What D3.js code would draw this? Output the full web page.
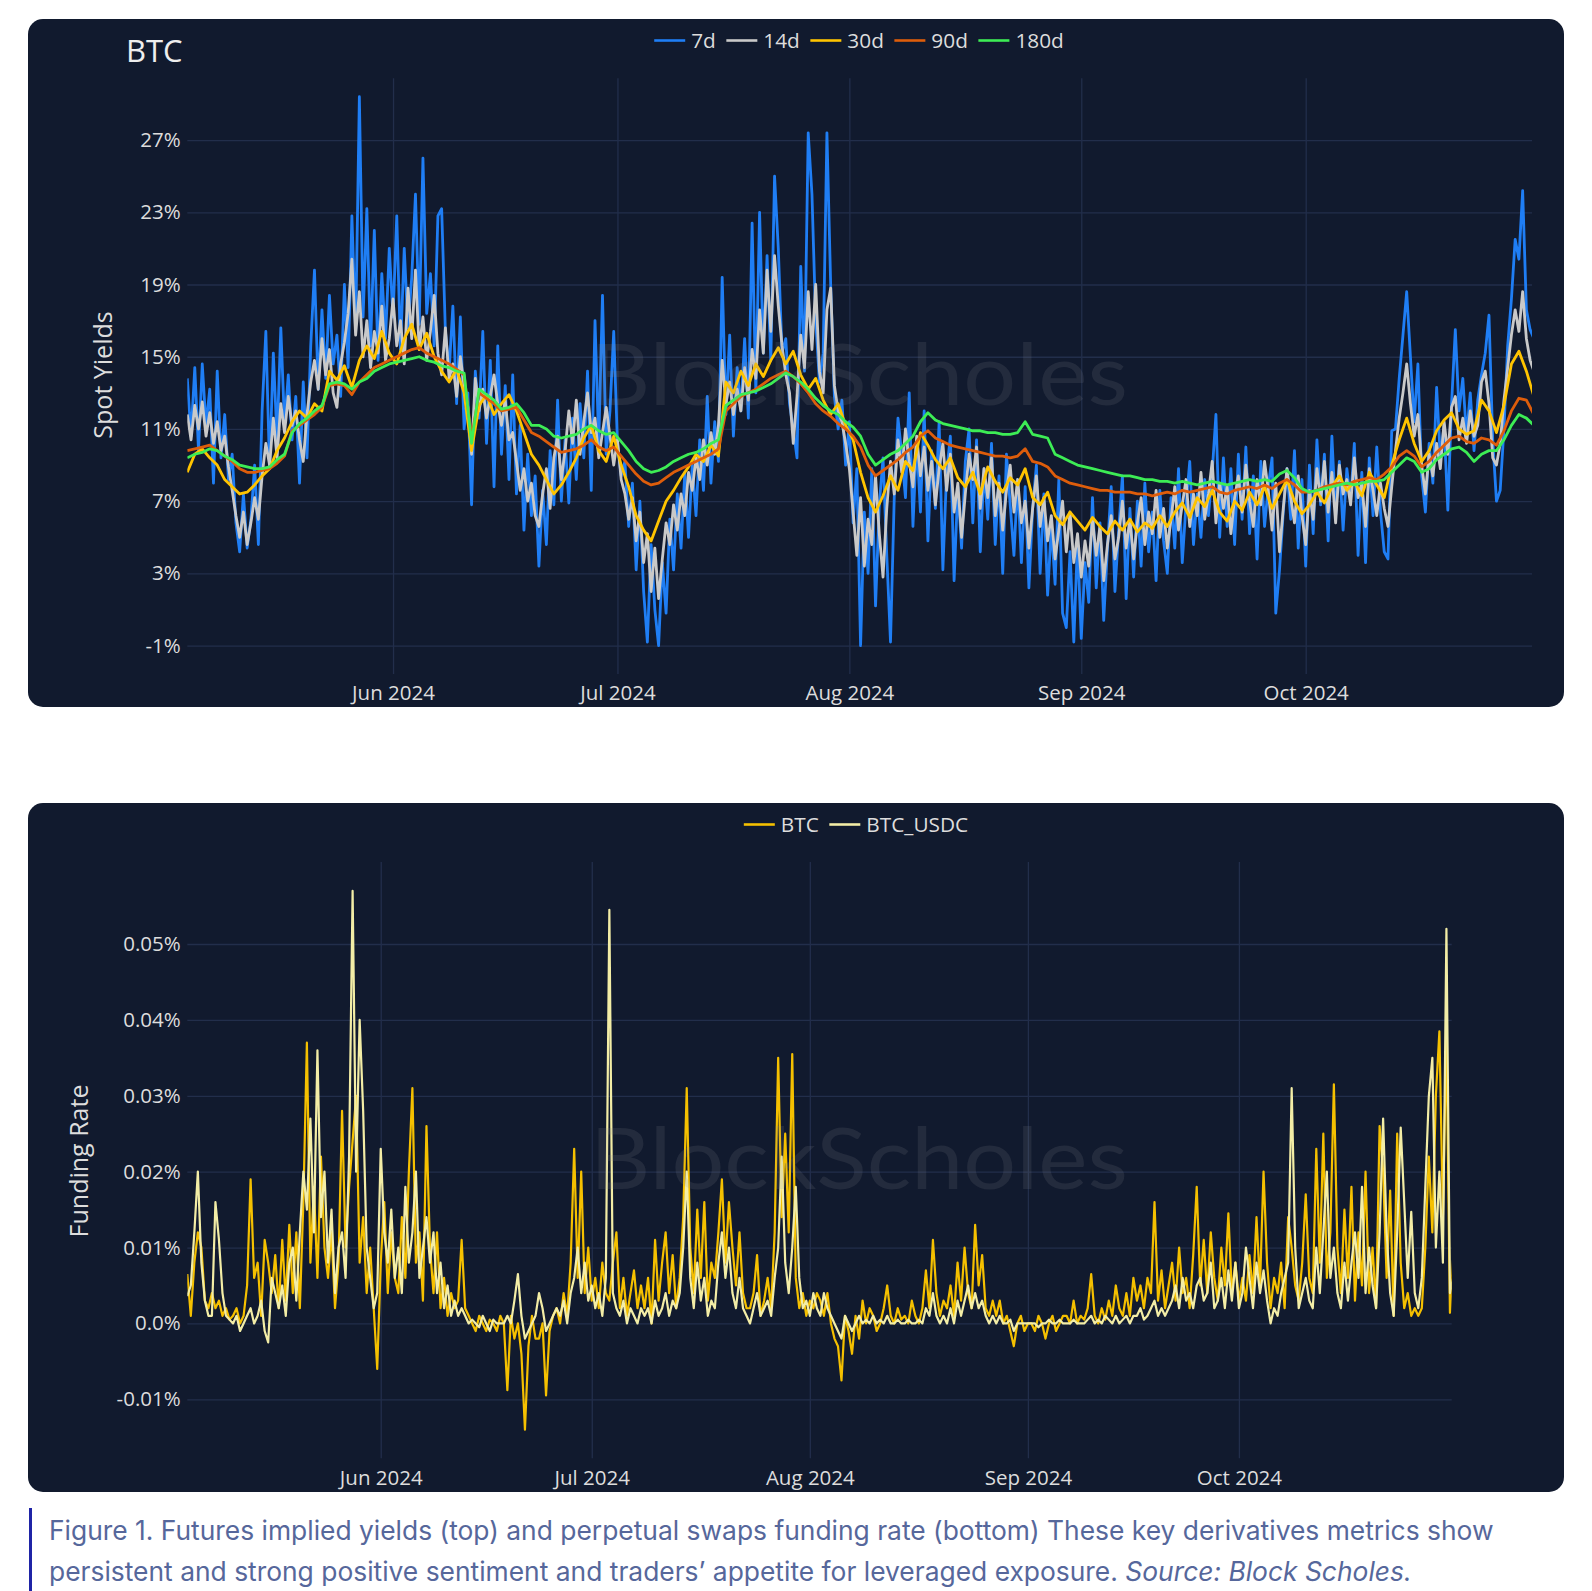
<!DOCTYPE html>
<html>
<head>
<meta charset="utf-8">
<script src="https://cdn.jsdelivr.net/npm/d3@7"></script>
<style>
	body { margin: 0; background: #ffffff; }
	svg { display: block; }
</style>
</head>
<body>
<svg id="chart" width="1592" height="1591"></svg>
<script>
// ---- data ----
var firstStamp = "2024-05-04 12:00";
var lastStamp = "2024-10-31 06:00";

var monthTicks = ["2024-06-01", "2024-07-01", "2024-08-01", "2024-09-01", "2024-10-01"];
var monthLabels = ["Jun 2024", "Jul 2024", "Aug 2024", "Sep 2024", "Oct 2024"];

var yieldTicks = [-1, 3, 7, 11, 15, 19, 23, 27];
var yieldTickLabels = ["-1%", "3%", "7%", "11%", "15%", "19%", "23%", "27%"];
var fundingTicks = [-0.01, 0, 0.01, 0.02, 0.03, 0.04, 0.05];
var fundingTickLabels = ["-0.01%", "0.0%", "0.01%", "0.02%", "0.03%", "0.04%", "0.05%"];

var yieldNames = ["7d", "14d", "30d", "90d", "180d"];
var fundingNames = ["BTC", "BTC_USDC"];

// spot yields in %, 7d and 14d every 12 hours
var yield7d = [13.8,10.6,14.4,9.8,14.6,11.2,13.2,8.0,14.2,9.4,11.8,8.2,
	9.6,5.8,4.2,7.4,4.4,6.0,9.0,4.6,
	12.0,16.4,8.8,15.2,10.4,16.6,11.2,14.0,
	10.4,12.8,8.0,13.6,9.4,15.6,19.8,13.2,
	17.6,13.8,18.4,14.6,16.2,12.8,19.0,14.4,
	22.8,16.4,29.4,17.2,23.2,15.6,
	22.0,14.8,19.6,16.0,21.0,
	17.2,22.8,15.4,21.0,16.6,19.4,24.0,16.8,
	26.0,17.4,19.6,15.6,22.8,23.2,16.4,14.2,
	17.8,12.4,17.2,11.0,13.0,6.8,14.2,11.6,
	16.4,10.2,14.8,7.8,15.6,9.6,13.4,8.2,
	14.0,7.4,11.2,5.4,9.6,6.2,8.4,3.4,
	7.6,4.6,9.8,6.8,12.6,7.0,10.4,6.9,
	11.6,8.2,12.4,9.4,14.2,7.6,17.0,10.2,
	18.4,9.6,12.0,16.4,10.2,8.4,9.2,5.6,
	8.0,3.2,7.0,2.0,-0.8,4.6,1.0,-1.0,
	3.6,0.8,6.0,3.2,7.4,4.4,8.6,5.0,
	9.0,6.2,10.4,7.6,12.8,8.0,11.4,9.2,
	19.4,11.8,16.2,10.6,14.4,12.0,16.0,11.6,
	22.4,13.0,23.0,15.2,20.6,14.8,25.0,
	21.0,15.2,16.0,12.4,11.0,9.4,20.0,14.2,27.4,
	24.0,17.0,13.6,15.2,27.4,19.0,12.8,11.0,
	12.6,9.0,11.4,5.8,8.8,
	-1.0,6.4,3.0,8.8,1.2,6.8,9.4,4.0,-0.8,7.2,11.6,
	9.6,7.2,13.0,5.6,10.4,6.4,12.0,4.8,
	9.8,6.6,11.4,3.2,8.6,10.6,2.6,7.8,
	4.4,9.2,11.0,5.8,10.4,4.2,8.8,6.0,
	10.2,4.6,8.4,3.0,9.6,6.8,4.0,8.2,
	3.6,7.8,2.2,6.6,9.0,3.0,7.4,1.8,
	5.6,2.4,8.2,0.8,0.0,4.2,-0.8,4.8,
	-0.6,3.6,1.4,7.2,2.2,5.8,0.4,4.4,
	7.8,2.0,5.4,8.4,1.6,6.6,2.8,7.0,
	3.4,8.0,4.2,6.4,2.6,7.6,4.8,3.0,
	7.2,4.4,8.8,3.6,6.8,9.2,4.6,7.4,
	5.0,8.2,6.2,8.6,11.8,5.0,9.4,5.6,
	8.8,4.6,9.6,6.0,10.0,5.2,8.4,3.8,
	9.2,5.6,7.8,9.4,0.8,3.2,6.4,8.8,
	6.0,9.8,4.4,8.2,3.4,9.0,5.2,10.4,
	6.8,9.6,4.8,10.6,6.2,9.2,5.4,8.8,
	7.0,10.2,4.0,8.6,3.6,9.4,6.2,10.0,
	6.4,4.2,3.8,10.9,11.0,13.8,16.2,18.6,
	15.0,11.4,14.6,8.4,6.4,10.2,8.0,13.3,
	9.4,11.2,6.5,12.4,16.5,12.0,13.8,10.6,
	13.0,9.8,12.6,14.0,15.2,17.3,10.4,7.0,
	7.6,11.0,15.6,18.2,21.5,20.4,24.2,17.6,16.5,16.0];

var yield14d = [11.8,10.4,12.3,11.0,12.5,10.6,11.9,10.2,11.4,9.8,10.6,8.9,
	7.6,6.2,5.0,6.4,4.6,5.8,7.2,6.0,
	8.4,10.2,9.0,11.6,9.4,12.4,
	10.8,12.8,11.2,12.0,10.4,9.2,11.8,13.6,
	14.8,13.2,16.0,14.0,15.4,13.0,12.2,14.6,
	15.8,17.4,20.4,16.2,18.6,15.0,17.0,14.4,
	16.4,15.2,17.8,14.8,16.0,
	18.2,15.6,17.0,14.6,18.8,16.0,19.8,15.4,
	17.2,14.8,16.4,18.4,15.2,14.0,16.6,13.8,
	14.6,12.8,15.0,13.4,12.2,9.6,13.8,12.0,
	13.2,11.6,12.8,14.0,12.4,11.2,12.6,10.4,
	10.8,9.2,7.6,8.8,7.0,8.0,6.2,5.6,
	7.4,8.8,6.6,9.4,10.6,8.2,9.8,12.0,
	10.2,12.6,9.6,11.4,13.0,10.8,11.6,9.4,
	10.8,12.2,10.6,9.0,10.4,8.2,7.4,6.0,
	7.2,4.8,6.4,3.6,5.2,2.0,4.4,1.6,
	3.8,5.8,4.6,6.8,5.4,7.4,6.2,8.6,
	7.6,9.4,8.2,10.4,9.0,10.8,9.6,11.2,
	14.8,12.4,13.6,11.8,13.2,12.0,14.4,12.6,
	15.4,13.8,17.6,15.2,19.8,16.4,20.6,17.8,
	15.6,14.0,13.0,10.2,12.8,16.2,14.4,18.6,
	15.4,19.0,14.2,13.0,17.6,18.8,13.4,12.0,
	11.4,10.2,8.8,6.4,4.0,7.2,3.4,6.0,
	4.6,8.4,5.2,2.8,6.6,9.2,7.4,10.4,
	8.6,11.0,9.2,7.8,10.6,8.4,10.0,7.6,
	9.2,6.8,8.8,10.2,7.6,9.6,6.4,8.0,
	5.0,7.4,9.6,8.2,10.0,6.6,8.8,7.2,
	9.4,6.2,8.0,5.4,7.6,9.0,6.4,8.2,
	5.8,7.0,4.4,6.6,8.4,5.6,7.2,4.8,
	6.2,3.8,5.4,7.0,4.2,6.4,3.6,5.2,
	2.8,4.8,3.4,6.0,4.0,5.6,2.6,4.6,
	6.2,3.8,5.0,7.0,4.4,6.0,3.8,5.8,
	7.2,4.6,6.4,5.2,7.6,5.0,6.6,4.4,
	6.0,7.8,5.4,6.8,8.2,5.6,7.4,6.2,
	8.6,6.0,7.4,9.2,5.8,8.0,6.6,7.8,
	5.2,7.2,8.4,6.4,9.0,7.0,5.6,8.2,
	6.8,9.2,7.6,5.4,8.0,4.2,6.6,8.8,
	7.2,5.8,8.4,6.2,4.6,7.6,6.0,8.8,
	7.0,9.2,6.4,8.6,5.8,9.0,7.4,8.2,
	6.8,9.4,7.2,8.0,5.6,8.8,7.6,6.2,
	8.0,6.6,5.6,7.8,9.8,11.6,13.0,14.6,12.4,10.6,11.8,9.0,
	7.4,9.6,8.4,10.2,8.8,11.4,9.6,12.2,
	12.8,10.4,11.6,10.2,12.0,10.6,11.2,13.6,14.2,12.4,9.4,9.0,10.2,12.6,14.4,16.2,17.6,16.4,18.6,16.0,14.8,14.2];

// 30d, 90d, 180d once a day
var yield30d = [8.6,9.6,9.9,9.4,9.0,8.2,7.8,7.4,7.5,7.9,
	8.4,8.8,9.8,10.5,11.4,12.0,11.6,12.4,12.0,14.2,
	13.7,14.5,13.3,14.8,15.6,14.9,16.4,15.2,14.6,16.0,
	16.8,15.4,16.3,15.0,14.2,13.6,14.3,13.0,9.8,12.3,
	12.9,11.8,12.4,12.9,12.0,10.8,9.6,9.0,8.2,7.4,
	7.9,8.6,9.4,10.5,11.2,9.8,9.2,10.6,9.0,7.8,
	6.2,5.4,4.8,5.9,7.0,7.6,8.3,8.9,9.6,9.2,
	10.1,9.5,13.6,13.0,14.2,13.4,14.6,13.9,14.8,15.5,
	14.6,15.3,14.0,13.2,13.8,12.6,11.8,12.4,11.2,10.4,
	8.6,7.2,6.4,7.3,8.4,7.6,9.2,8.7,10.8,10.1,
	9.3,8.8,9.4,8.3,7.8,8.6,7.4,8.9,8.1,7.5,
	8.3,7.9,8.8,7.2,6.8,7.5,6.2,5.7,6.4,5.9,
	5.4,6.1,5.6,5.2,5.9,5.4,6.0,5.3,5.8,5.5,
	6.2,5.6,6.4,6.9,6.1,7.2,6.7,7.6,6.4,5.9,
	7.0,6.5,7.5,6.8,7.8,6.6,7.4,8.2,7.0,6.3,
	6.8,7.5,6.9,7.8,8.4,7.6,8.1,7.3,8.6,7.9,
	7.2,9.0,10.4,11.6,10.2,9.2,9.8,10.9,11.5,11.9,
	11.0,10.7,10.9,12.6,12.0,10.8,12.3,14.6,15.3,14.2,
	12.8];

var yield90d = [9.8,9.9,10.0,10.1,9.8,9.5,9.2,8.8,8.6,8.6,
	8.7,8.8,9.1,9.5,10.9,11.2,11.5,11.8,12.2,13.4,
	13.5,13.4,12.9,13.6,14.0,14.4,14.6,14.8,15.0,15.2,
	15.4,15.5,15.2,15.0,14.8,14.6,14.3,14.0,10.5,13.0,
	12.7,12.4,12.0,12.1,12.2,11.5,10.8,10.6,10.3,10.0,
	9.7,9.8,9.9,10.1,10.4,10.0,9.8,10.0,9.5,9.0,
	8.5,8.1,7.9,8.0,8.3,8.6,8.8,9.0,9.2,9.4,
	9.6,9.9,12.0,12.4,12.8,13.0,13.2,13.5,13.8,14.0,
	14.2,13.9,13.5,13.0,12.4,12.0,11.7,11.3,11.0,10.6,
	10.0,9.0,8.4,8.7,9.0,9.3,9.7,10.0,10.6,10.9,
	10.5,10.3,10.1,10.0,9.9,9.8,9.7,9.6,9.5,9.5,
	9.4,9.5,9.9,9.2,9.1,8.9,8.4,8.2,8.0,7.9,
	7.8,7.7,7.6,7.6,7.5,7.5,7.5,7.4,7.4,7.3,
	7.4,7.5,7.4,7.6,7.5,7.6,7.7,7.8,7.5,7.4,
	7.6,7.7,7.8,7.7,7.9,7.7,8.0,8.2,7.9,7.5,
	7.5,7.6,7.8,7.9,8.0,7.9,8.1,8.2,8.3,8.2,
	8.5,8.9,9.5,9.8,9.5,8.9,9.2,9.7,10.1,10.5,
	10.6,10.3,10.2,10.5,10.4,10.1,10.9,12.0,12.7,12.6,
	11.8];

var yield180d = [9.4,9.6,9.7,9.9,9.8,9.5,9.3,9.0,8.9,8.8,
	8.8,8.9,9.3,9.6,10.8,11.3,11.6,12.0,12.3,13.5,
	13.6,13.5,13.2,13.6,13.8,14.2,14.4,14.6,14.7,14.8,
	14.9,15.0,14.8,14.7,14.5,14.4,14.2,14.1,10.2,13.2,
	12.9,12.6,12.1,12.2,12.4,11.9,11.2,11.2,11.0,10.6,
	10.5,10.6,10.7,11.0,11.2,10.9,10.7,10.8,10.3,9.8,
	9.2,8.8,8.6,8.7,8.9,9.2,9.4,9.6,9.7,9.9,
	10.2,10.4,12.3,12.6,12.9,13.0,13.1,13.3,13.5,13.8,
	14.1,13.9,13.6,13.2,12.7,12.3,12.0,11.8,11.4,11.1,
	10.6,9.6,9.0,9.3,9.6,9.8,10.2,10.6,11.4,11.9,
	11.5,11.3,11.2,11.1,11.0,10.9,10.9,10.8,10.8,10.7,
	10.7,10.8,11.4,10.7,10.6,10.5,9.6,9.4,9.2,9.0,
	8.9,8.8,8.7,8.6,8.5,8.4,8.4,8.3,8.2,8.2,
	8.1,8.1,8.0,8.1,8.0,7.9,8.0,8.1,8.0,7.9,
	8.0,8.1,8.2,8.1,8.2,8.1,8.5,8.7,8.3,7.7,
	7.5,7.6,7.7,7.8,7.9,8.0,7.9,8.0,8.1,8.1,
	8.2,8.6,9.0,9.4,9.2,8.6,8.8,9.3,9.6,9.9,
	10.0,9.7,9.2,9.6,9.8,9.8,10.4,11.2,11.8,11.6,
	11.2];

// perpetual funding rate in %, every 12 hours
var fundingBTC = [0.0065,0.001,0.008,0.012,0.010,0.003,0.002,0.004,0.002,0.003,
	0.001,0.002,0.0005,0.001,0.002,0,0.001,0.005,0.019,0.006,
	0.008,0.001,0.011,0.008,0.004,0.009,0.002,0.011,0.003,0.013,
	0.004,0.012,0.002,0.016,0.037,0.008,0.018,0.006,0.022,0.010,
	0.006,0.012,0.002,0.008,0.028,0.010,0.018,0.024,0.030,0.008,
	0.014,0.004,0.010,0.002,-0.006,0.008,0.016,0.004,0.012,0.006,
	0.004,0.014,0.006,0.020,0.031,0.008,0.012,0.003,0.026,0.010,
	0.004,0.012,0.002,0.006,0.001,0.004,0.002,0.003,0.011,0.002,
	0.001,0,-0.001,0.001,0,-0.001,0.0005,0,-0.001,0.001,
	0,-0.0088,0.001,-0.002,0,-0.004,-0.014,-0.003,0.001,-0.002,
	-0.002,0,-0.0095,-0.001,0.001,0.002,0,0.004,0.001,0.008,
	0.023,0.006,0.020,0.004,0.010,0.003,0.006,0.002,0.008,0.004,
	0.003,0.008,0.012,0.002,0.006,0.001,0.004,0.007,0.002,0.005,
	0.002,0.006,0,0.011,0.003,0.008,0.012,0.004,0.009,0.002,
	0.006,0.014,0.031,0.010,0.004,0.015,0.006,0.016,0.003,0.008,
	0.006,0.012,0.019,0.008,0.016,0.010,0.005,0.012,0.004,0.002,
	0.002,0.004,0.009,0.001,0.003,0.006,0.002,0.012,0.035,0.014,
	0.025,0.012,0.0355,0.006,0.002,0.004,0.001,0.003,0.002,0.004,
	0.003,0.001,0.004,0,-0.002,-0.003,-0.0075,0.001,-0.001,-0.004,
	0.001,-0.002,0.003,0,0.002,0.001,-0.001,0,0.002,0.005,
	0.001,0,0.002,0.0005,0.001,0,0.003,0.001,0,0.002,
	0.007,0.002,0.011,0.004,0.001,0.003,0.002,0.005,0.001,0.008,
	0.003,0.010,0.004,0.002,0.013,0.005,0.009,0.002,0.001,0.003,
	0.001,0.003,0,0.001,-0.001,-0.003,0,0.001,-0.001,0,
	0,-0.001,0.001,0,-0.002,0,0.001,-0.001,0,0.001,
	0.001,0,0.003,0,0.001,0.0005,0.002,0.0065,0.001,0,
	0.002,0.0005,0.003,0.001,0.005,0.002,0.001,0.004,0.001,0.006,
	0.003,0.005,0.002,0.006,0.004,0.016,0.003,0.007,0.002,0.005,
	0.008,0.003,0.010,0.004,0.006,0.002,0.009,0.018,0.005,0.011,
	0.004,0.012,0.006,0.003,0.010,0.005,0.0145,0.004,0.008,0.003,
	0.006,0.003,0.009,0.004,0.014,0.005,0.020,0.008,0.002,0.006,
	0.004,0.008,0.002,0.014,0.010,0.005,0.003,0.008,0.017,0.006,
	0.004,0.023,0.008,0.025,0.006,0.012,0.0315,0.010,0.004,0.015,
	0.006,0.018,0.003,0.012,0.005,0.020,0.004,0.010,0.002,0.026,
	0.020,0.006,0.0175,0.001,0.025,0.008,0.002,0.004,0.001,0.002,
	0.001,0.002,0.010,0.022,0.012,0.030,0.0385,0.014,0.0385,0.0014,0.0093];

var fundingUSDC = [0.0036,0.005,0.012,0.020,0.008,0.003,0.001,0.001,0.016,0.011,
	0.004,0.001,0.0005,0,0.001,-0.001,0,0.001,0.002,0,
	0.001,0.003,-0.001,-0.0025,0.006,0.004,0.002,0.005,0.001,0.008,
	0.010,0.003,0.012,0.020,0.015,0.027,0.012,0.036,0.014,0.020,
	0.008,0.015,0.004,0.010,0.012,0.006,0.022,0.057,0.020,0.040,
	0.028,0.010,0.006,0.002,0.004,0.023,0.012,0.008,0.015,0.006,
	0.010,0.004,0.018,0.008,0.012,0.020,0.006,0.010,0.014,0.008,
	0.012,0.004,0.008,0.002,0.005,0.001,0.003,0.001,0.002,0.001,
	0,0.0005,0,-0.0005,0.001,0,-0.001,0.0005,0,0,
	0,0.001,0,0.003,0.0065,0.001,-0.002,-0.001,0,0.001,
	0.004,0.002,-0.001,0,0.001,0.002,0.001,0.003,0,0.004,
	0.006,0.010,0.004,0.008,0.003,0.005,0.002,0.004,0.001,0.006,
	0.0545,0.004,0.002,0.001,0.003,0,0.002,0.001,0,0.002,
	0.001,0.002,0,0.003,0.001,0.002,0.004,0.001,0.003,0.002,
	0.004,0.010,0.020,0.006,0.002,0.008,0.003,0.006,0.001,0.003,
	0.002,0.008,0.012,0.006,0.010,0.004,0.002,0.006,0.002,0.001,
	0,0.002,0.004,0.001,0.002,0.003,0.001,0.006,0.010,0.022,
	0.008,0.004,0.010,0.018,0.006,0.002,0.003,0.001,0.004,0.002,
	0.001,0.004,0.002,0.001,0,-0.001,-0.002,0.001,0,-0.001,
	0,0.001,0,0.0005,0,0.001,0,0.0005,0,0.001,
	0,0,0.0005,0,0,0.0005,0,0,0.0005,0,
	0.002,0.001,0.004,0.001,0,0.001,0,0.002,0,0.003,
	0.001,0.003,0.005,0.002,0.004,0.002,0.003,0.001,0,0.001,
	0,0.001,0,0,0.0005,-0.001,0,0,0,0,
	0,0,-0.0005,0,0,0.0005,0,0,0.0005,0,
	0,0,0.0005,0,0,0,0.0005,0.001,0,0.0005,
	0,0.001,0.0005,0,0.001,0,0.0005,0.001,0,0.001,
	0.001,0.002,0.0005,0.001,0.002,0.003,0.001,0.002,0.001,0.002,
	0.003,0.005,0.002,0.006,0.003,0.004,0.002,0.005,0.006,0.003,
	0.004,0.008,0.002,0.003,0.006,0.002,0.007,0.003,0.008,0.002,
	0.004,0.010,0.006,0.002,0.008,0.004,0.007,0.003,0,0.002,
	0.001,0.004,0.006,0.008,0.031,0.010,0.002,0.004,0.006,0.003,
	0.002,0.010,0.004,0.012,0.020,0.006,0.010,0.004,0.002,0.008,
	0.003,0.008,0.012,0.006,0.018,0.004,0.010,0.005,0.002,0.012,
	0.027,0.012,0.004,0.001,0.012,0.0258,0.016,0.006,0.0147,0.004,
	0.002,0.006,0.018,0.030,0.035,0.010,0.020,0.008,0.052,0.004,0.0062];

var yieldColors = ["#1f7ef5", "#c9c9c9", "#ffc400", "#de5d0b", "#3ded55"];
var fundingColors = ["#f5c000", "#f3eda6"];

// ---- layout ----
var panelBg = "#111a2e";
var gridColor = "#222e4b";
var labelColor = "#dddddd";
var tickFont = "'Open Sans', 'Noto Sans', sans-serif";

var parseStamp = d3.utcParse("%Y-%m-%d %H:%M");
var parseDay = d3.utcParse("%Y-%m-%d");
var xStart = parseStamp(firstStamp);
var xEnd = parseStamp(lastStamp);
var halfDay = 12 * 3600 * 1000;

function toPoints(values, step) {
	return values.map((v, i) => ({date: new Date(xStart.getTime() + i * step), value: v}));
}

var svg = d3.select("#chart");

function panel(y, h) {
	svg.append("rect")
		.attr("x", 28).attr("y", y)
		.attr("width", 1536).attr("height", h)
		.attr("rx", 15)
		.attr("fill", panelBg);
}

function drawPlot(opt) {
	var x = d3.scaleUtc().domain([xStart, xEnd]).range([opt.left, opt.right]);
	var y = d3.scaleLinear().domain(opt.yDomain).range([opt.bottom, opt.top]);
	var g = svg.append("g");

	// horizontal grid + y labels
	var yAxis = g.append("g")
		.attr("transform", "translate(" + opt.left + ",0)")
		.call(d3.axisLeft(y)
			.tickValues(opt.yTicks)
			.tickFormat((d, i) => opt.yLabels[i])
			.tickSizeInner(-(opt.right - opt.left))
			.tickSizeOuter(0)
			.tickPadding(6.6));
	yAxis.select(".domain").remove();
	yAxis.selectAll("line").attr("stroke", gridColor).attr("stroke-width", 1.3);
	yAxis.selectAll("text")
		.attr("fill", labelColor)
		.style("font-family", tickFont)
		.style("font-size", "20.5px");

	// vertical month grid + x labels
	var xAxis = g.append("g")
		.attr("transform", "translate(0," + opt.bottom + ")")
		.call(d3.axisBottom(x)
			.tickValues(monthTicks.map(parseDay))
			.tickFormat((d, i) => monthLabels[i])
			.tickSizeInner(-(opt.bottom - opt.top))
			.tickSizeOuter(0)
			.tickPadding(opt.xPad));
	xAxis.select(".domain").remove();
	xAxis.selectAll("line").attr("stroke", gridColor).attr("stroke-width", 1.3);
	xAxis.selectAll("text")
		.attr("fill", labelColor)
		.style("font-family", tickFont)
		.style("font-size", "20.5px");

	// axis title
	g.append("text")
		.attr("transform", "translate(" + opt.titleX + "," + opt.titleY + ") rotate(-90)")
		.attr("text-anchor", "middle")
		.attr("dominant-baseline", "central")
		.attr("fill", labelColor)
		.style("font-family", tickFont)
		.style("font-size", "25px")
		.text(opt.yTitle);

	var clipId = "clip" + opt.top;
	svg.append("clipPath").attr("id", clipId)
		.append("rect")
		.attr("x", opt.left).attr("y", opt.top)
		.attr("width", opt.right - opt.left).attr("height", opt.bottom - opt.top);

	var line = d3.line().x(d => x(d.date)).y(d => y(d.value));
	var lines = g.append("g").attr("clip-path", "url(#" + clipId + ")");
	opt.series.forEach(function(s, i) {
		lines.append("path")
			.datum(toPoints(s.values, s.step))
			.attr("fill", "none")
			.attr("stroke", opt.colors[i])
			.attr("stroke-width", opt.lineWidth)
			.attr("stroke-linejoin", "round")
			.attr("d", line);
	});

	// watermark over the lines
	g.append("text")
		.attr("x", opt.markX).attr("y", opt.markY)
		.attr("text-anchor", "middle")
		.attr("textLength", 538)
		.attr("lengthAdjust", "spacingAndGlyphs")
		.attr("fill", "#8c8f96")
		.attr("fill-opacity", 0.15)
		.style("font-family", "Lato, 'Open Sans', sans-serif")
		.style("font-size", "86px")
		.text("BlockScholes");

	// legend, centred
	var leg = g.append("g");
	var items = leg.selectAll("g").data(opt.names).join("g");
	items.append("line")
		.attr("x1", 0).attr("x2", 31)
		.attr("y1", opt.legendY).attr("y2", opt.legendY)
		.attr("stroke", (d, i) => opt.colors[i])
		.attr("stroke-width", 2.6);
	items.append("text")
		.attr("x", 37).attr("y", opt.legendY)
		.attr("dy", "0.35em")
		.attr("fill", labelColor)
		.style("font-family", tickFont)
		.style("font-size", "20.8px")
		.text(d => d);
	var widths = [];
	items.each(function() { widths.push(37 + this.querySelector("text").getComputedTextLength()); });
	var gap = 10.5;
	var total = d3.sum(widths) + gap * (widths.length - 1);
	var cx = opt.legendCenter - total / 2;
	items.attr("transform", function(d, i) {
		var t = "translate(" + cx + ",0)";
		cx += widths[i] + gap;
		return t;
	});
}

// top panel: spot yields
panel(19, 688);
svg.append("text")
	.attr("x", 126).attr("y", 62)
	.attr("fill", "#eeeeee")
	.style("font-family", tickFont)
	.style("font-size", "31px")
	.text("BTC");

drawPlot({
	left: 187.3, right: 1532, top: 78.3, bottom: 674,
	yDomain: [-2.57, 30.42], yTicks: yieldTicks, yLabels: yieldTickLabels,
	xPad: 11.8, yTitle: "Spot Yields", titleX: 101.5, titleY: 375,
	series: [
		{values: yield7d, step: halfDay},
		{values: yield14d, step: halfDay},
		{values: yield30d, step: 2 * halfDay},
		{values: yield90d, step: 2 * halfDay},
		{values: yield180d, step: 2 * halfDay}
	],
	colors: yieldColors, names: yieldNames, lineWidth: 2.8,
	markX: 859, markY: 405,
	legendY: 40.5, legendCenter: 859
});

// bottom panel: funding rate
panel(803, 689);
drawPlot({
	left: 187.3, right: 1451.7, top: 862, bottom: 1458.3,
	yDomain: [-0.017776, 0.06081], yTicks: fundingTicks, yLabels: fundingTickLabels,
	xPad: 12.5, yTitle: "Funding Rate", titleX: 77.5, titleY: 1161,
	series: [
		{values: fundingBTC, step: halfDay},
		{values: fundingUSDC, step: halfDay}
	],
	colors: fundingColors, names: fundingNames, lineWidth: 2.2,
	markX: 859, markY: 1189,
	legendY: 824.5, legendCenter: 856
});

// caption
svg.append("rect")
	.attr("x", 29).attr("y", 1508)
	.attr("width", 3).attr("height", 83)
	.attr("fill", "#1f24a6");

var caption = svg.append("g")
	.attr("fill", "#56679b")
	.style("font-family", "Inter, 'Noto Sans', sans-serif")
	.style("font-size", "26.4px");
caption.append("text")
	.attr("x", 49).attr("y", 1539.5)
	.text("Figure 1. Futures implied yields (top) and perpetual swaps funding rate (bottom) These key derivatives metrics show");
var line2 = caption.append("text")
	.attr("x", 49).attr("y", 1580.5);
line2.append("tspan").text("persistent and strong positive sentiment and traders\u2019 appetite for leveraged exposure. ");
line2.append("tspan").attr("font-style", "italic").text("Source: Block Scholes.");
</script>
</body>
</html>
